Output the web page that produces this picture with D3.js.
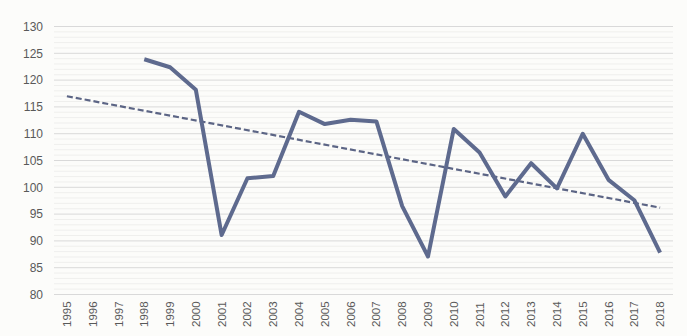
<!DOCTYPE html>
<html><head><meta charset="utf-8">
<script src="https://cdn.jsdelivr.net/npm/d3@7"></script>
<style>body{margin:0;background:#fcfcfa;}svg{display:block;font-family:"Open Sans","Liberation Sans",sans-serif;}</style>
</head><body>
<svg id="c" width="687" height="336"></svg>
<script>
const years = ["1995","1996","1997","1998","1999","2000","2001","2002","2003","2004","2005","2006","2007","2008","2009","2010","2011","2012","2013","2014","2015","2016","2017","2018"];
const values = [null,null,null,123.8,122.3,118.1,91.0,101.6,102.0,114.0,111.7,112.5,112.2,96.4,87.0,110.8,106.4,98.2,104.4,99.7,109.9,101.3,97.5,87.7];
const trendYears = ["1995","2018"];
const trendValues = [116.9, 96.1];
const yTicks = [80,85,90,95,100,105,110,115,120,125,130];

const svg = d3.select("#c");
const x = d3.scaleBand().domain(years).range([54, 673]);
const y = d3.scaleLinear().domain([80,130]).range([294, 26]);
const cx = d => x(d) + x.bandwidth()/2;

// minor grid
const minor = d3.range(80,131,1).filter(v => v % 5 !== 0);
svg.append("g").selectAll("line").data(minor).join("line")
  .attr("x1",54).attr("x2",673).attr("y1",d=>y(d)+0.5).attr("y2",d=>y(d)+0.5)
  .attr("stroke","#efefed").attr("stroke-width",1);
// major grid
svg.append("g").selectAll("line").data(yTicks).join("line")
  .attr("x1",54).attr("x2",673).attr("y1",d=>y(d)+0.5).attr("y2",d=>y(d)+0.5)
  .attr("stroke","#d9d9d9").attr("stroke-width",1);

// y axis labels
const ya = svg.append("g").attr("transform","translate(43,0)")
  .call(d3.axisLeft(y).tickValues(yTicks).tickSize(0).tickPadding(0));
ya.select(".domain").remove();
ya.selectAll("text").attr("fill","#595959").style("font-size","12px").attr("dy","0.35em");

// x axis labels
const xa = svg.append("g").attr("transform","translate(0,298)")
  .call(d3.axisBottom(x).tickSize(0).tickPadding(0));
xa.select(".domain").remove();
xa.selectAll(".tick text").attr("fill","#595959").style("font-size","11.5px")
  .attr("transform","rotate(-90)").attr("text-anchor","start")
  .attr("x",-29).attr("y",0).attr("dy","0.35em");

// trend
const tdata = trendYears.map((d,i)=>({k:d,v:trendValues[i]}));
svg.append("path").datum(tdata)
  .attr("d", d3.line().x(d=>cx(d.k)).y(d=>y(d.v)))
  .attr("fill","none").attr("stroke","#5c6585").attr("stroke-width",2.2)
  .attr("stroke-dasharray","6,3");

// series
const sdata = years.map((d,i)=>({k:d,v:values[i]}));
svg.append("path").datum(sdata)
  .attr("d", d3.line().defined(d=>d.v!==null).x(d=>cx(d.k)).y(d=>y(d.v)))
  .attr("fill","none").attr("stroke","#5e6a8e").attr("stroke-width",4)
  .attr("stroke-linejoin","round");
</script>
</body></html>
